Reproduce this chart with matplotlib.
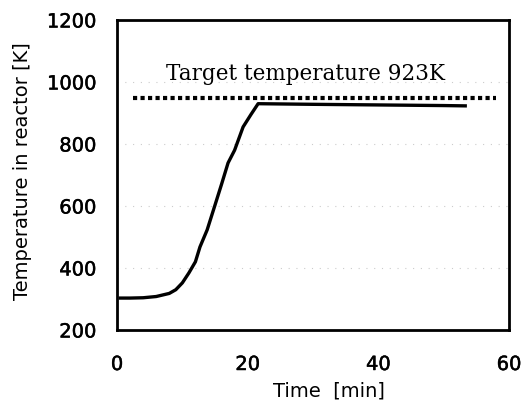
import numpy as np
import matplotlib
matplotlib.use("Agg")
import matplotlib.pyplot as plt
import matplotlib.patheffects as pe

# measured reactor temperature
time_min = [0.5, 2, 4, 6, 8, 9, 10, 11, 12, 12.7, 13.8, 15, 16, 17, 18, 19.3, 20.5, 21.6,
            30, 40, 50, 53.3]
temp_k = [303, 303, 304, 308, 318, 330, 352, 384, 420, 468, 523, 603, 670, 739, 780, 855, 895, 930,
          928, 926, 924, 923]

# target line
target_t = [2.5, 58]
target_T = [948, 948]
target_label = "Target temperature 923K"

xticks = [0, 20, 40, 60]
yticks = [200, 400, 600, 800, 1000, 1200]

sans = ["DejaVu Sans"]
thick = [pe.withStroke(linewidth=0.35, foreground="black")]

fig = plt.figure(figsize=(5.26, 4.01), dpi=100)
ax = fig.add_axes([117/526, 1 - 330/401, (509-117)/526, (330-20)/401])

ax.plot(time_min, temp_k, color="black", lw=2.4)
ax.plot(target_t, target_T, color="black", lw=3.0, ls=(0, (1, 0.8)))
ax.text(28.9, 1026, target_label, ha="center", va="center", fontsize=15.5,
        family=["DejaVu Serif"])

ax.set_xlim(0, 60)
ax.set_ylim(200, 1200)
ax.set_xticks(xticks)
ax.set_yticks(yticks)
ax.tick_params(axis="y", length=0, labelsize=14, pad=15)
ax.tick_params(axis="x", length=0, labelsize=14, pad=18)
for lab in ax.get_xticklabels() + ax.get_yticklabels():
    lab.set_family(sans)
    lab.set_path_effects(thick)
ax.grid(axis="y", color="0.8", ls=(0, (1, 6)), lw=0.8)
for s in ax.spines.values():
    s.set_linewidth(2.0)

ax.set_xlabel("Time  [min]", fontsize=14, family=sans)
ax.set_ylabel("Temperature in reactor [K]", fontsize=14, family=sans)
ax.xaxis.set_label_coords(0.541, -0.165)
ax.yaxis.set_label_coords(-0.217, 0.513)

fig.savefig("out.png", dpi=100)
